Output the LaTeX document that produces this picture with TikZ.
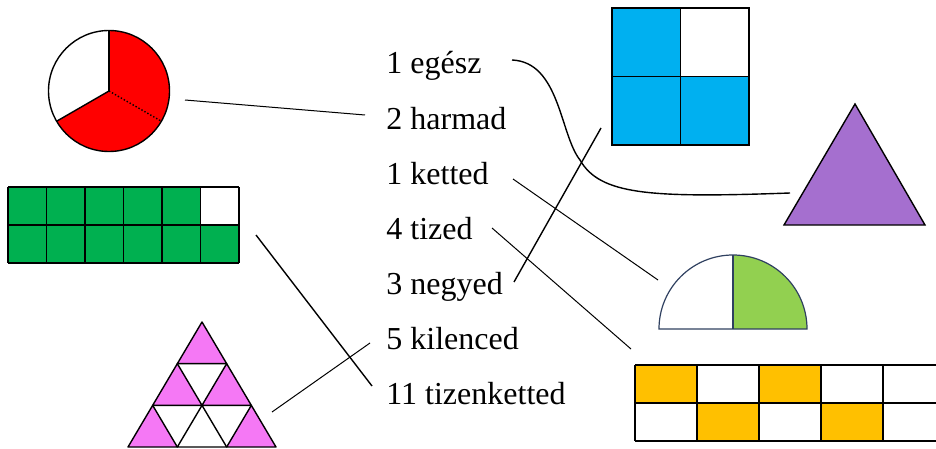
\documentclass[tikz,border=0pt]{standalone}
\usepackage{fontspec}
\setmainfont{Liberation Serif}

\definecolor{piered}{RGB}{255, 0, 0}
\definecolor{gridgreen}{RGB}{0, 176, 80}
\definecolor{squareblue}{RGB}{0, 176, 240}
\definecolor{tripurple}{RGB}{165, 111, 207}
\definecolor{tripink}{RGB}{245, 120, 245}
\definecolor{halfgreen}{RGB}{146, 208, 80}
\definecolor{halfline}{RGB}{47, 64, 96}
\definecolor{gridyellow}{RGB}{255, 192, 0}

\begin{document}
\begin{tikzpicture}[x = 0.5pt, y = -0.5pt,
	fraction/.style = {anchor = base west, inner sep = 0pt, font = \fontsize{16}{19}\selectfont},
	link/.style = {line width = 0.7pt},
	thinlink/.style = {line width = 0.5pt},
	cell/.style = {line width = 0.7pt}]

	% Definitions
	
	\def\S{49.33}		% Side of a small triangle
	\def\H{41.67}		% Height of a small triangle
	\def\R{30.25pt}		% Radius of the pie
	\def\Q{37pt}		% Radius of the half disc
	
	\useasboundingbox (0, 0) rectangle (936, 449);
	\clip (0, 0) rectangle (936, 449);
	
	% Fraction names
	
	\node [fraction] (egesz) at (386, 74) {1 egész};
	\node [fraction] (harmad) at (386, 129) {2 harmad};
	\node [fraction] (ketted) at (386, 184) {1 ketted};
	\node [fraction] (tized) at (386, 239) {4 tized};
	\node [fraction] (negyed) at (386, 294) {3 negyed};
	\node [fraction] (kilenced) at (386, 349) {5 kilenced};
	\node [fraction] (tizenketted) at (386, 404) {11 tizenketted};
	
	% Pie in thirds
	
	\coordinate (pie) at (109, 91);
	\fill [piered] (pie) -- ++(90 : \R) arc (90 : -150 : \R) -- cycle;
	\draw [cell] (pie) circle (\R);
	\draw [cell] (pie) -- ++(90 : \R);
	\draw [cell] (pie) -- ++(210 : \R);
	\draw [cell, densely dotted] (pie) -- ++(-30 : \R);
	
	% Green grid
	
	\fill [gridgreen] (8, 187) rectangle (239, 263);
	\fill [white] (200.5, 187) rectangle (239, 225);
	\foreach \c in {0, 1, ..., 6}
		\draw [cell] ({8 + \c * 38.5}, 187) -- ({8 + \c * 38.5}, 263);
	\foreach \r in {0, 1, 2}
		\draw [cell] (8, {187 + \r * 38}) -- (239, {187 + \r * 38});
	
	% Pink triangle
	
	\foreach \i/\j in {0/0, 0/1, 1/1, 0/2, 2/2}
		\fill [tripink] ({202 + (\i - \j / 2) * \S}, {322 + \j * \H}) -- ({202 + (\i - (\j + 1) / 2) * \S}, {322 + (\j + 1) * \H}) -- ({202 + (\i + 1 - (\j + 1) / 2) * \S}, {322 + (\j + 1) * \H}) -- cycle;
	\foreach \i/\j in {0/0, 0/1, 1/1, 0/2, 1/2, 2/2}
		\draw [cell, line join = round] ({202 + (\i - \j / 2) * \S}, {322 + \j * \H}) -- ({202 + (\i - (\j + 1) / 2) * \S}, {322 + (\j + 1) * \H}) -- ({202 + (\i + 1 - (\j + 1) / 2) * \S}, {322 + (\j + 1) * \H}) -- cycle;
	
	% Blue square
	
	\fill [squareblue] (612, 8) rectangle (749, 145);
	\fill [white] (680.5, 8) rectangle (749, 76.5);
	\draw [cell] (612, 8) rectangle (749, 145);
	\draw [cell] (680.5, 8) -- (680.5, 145);
	\draw [cell] (612, 76.5) -- (749, 76.5);
	
	% Purple triangle
	
	\filldraw [cell, fill = tripurple] (855, 104) -- (784, 225) -- (925, 225) -- cycle;
	
	% Half disc
	
	\coordinate (half) at (733, 329);
	\fill [halfgreen] (half) -- ++(90 : \Q) arc (90 : 0 : \Q) -- cycle;
	\draw [halfline, line width = 0.6pt] (half) ++(-\Q, 0pt) arc (180 : 0 : \Q) -- cycle;
	\draw [halfline, line width = 0.6pt] (half) -- ++(0pt, \Q);
	
	% Yellow grid
	
	\foreach \c/\r in {0/0, 2/0, 1/1, 3/1}
		\fill [gridyellow] ({635 + \c * 62}, {365 + \r * 38}) rectangle ({635 + (\c + 1) * 62}, {365 + (\r + 1) * 38});
	\foreach \c in {0, 1, ..., 5}
		\draw [cell] ({635 + \c * 62}, 365) -- ({635 + \c * 62}, 441);
	\foreach \r in {0, 1, 2}
		\draw [cell] (635, {365 + \r * 38}) -- (945, {365 + \r * 38});
	
	% Link ends
	
	\coordinate (pieEnd) at (185, 100);
	\coordinate (harmadEnd) at (365, 115);
	\coordinate (egeszEnd) at (512, 60);
	\coordinate (purpleEnd) at (790, 193);
	\coordinate (kettedEnd) at (513, 179);
	\coordinate (halfEnd) at (658, 280);
	\coordinate (tizedEnd) at (492, 228);
	\coordinate (yellowEnd) at (631, 349);
	\coordinate (negyedEnd) at (514, 282);
	\coordinate (blueEnd) at (601, 128);
	\coordinate (kilencedEnd) at (370, 343);
	\coordinate (pinkEnd) at (272, 412);
	\coordinate (tizenkettedEnd) at (372, 386);
	\coordinate (greenEnd) at (256, 235);
	
	% Links
	
	\draw [thinlink] (pieEnd) -- (harmadEnd);
	\draw [link] (egeszEnd) .. controls (560, 62) and (560, 135) .. (580, 160) .. controls (600, 195) and (650, 198) .. (purpleEnd);
	\draw [thinlink] (kettedEnd) -- (halfEnd);
	\draw [thinlink] (tizedEnd) -- (yellowEnd);
	\draw [link] (negyedEnd) -- (blueEnd);
	\draw [thinlink] (kilencedEnd) -- (pinkEnd);
	\draw [link] (tizenkettedEnd) -- (greenEnd);

\end{tikzpicture}
\end{document}
